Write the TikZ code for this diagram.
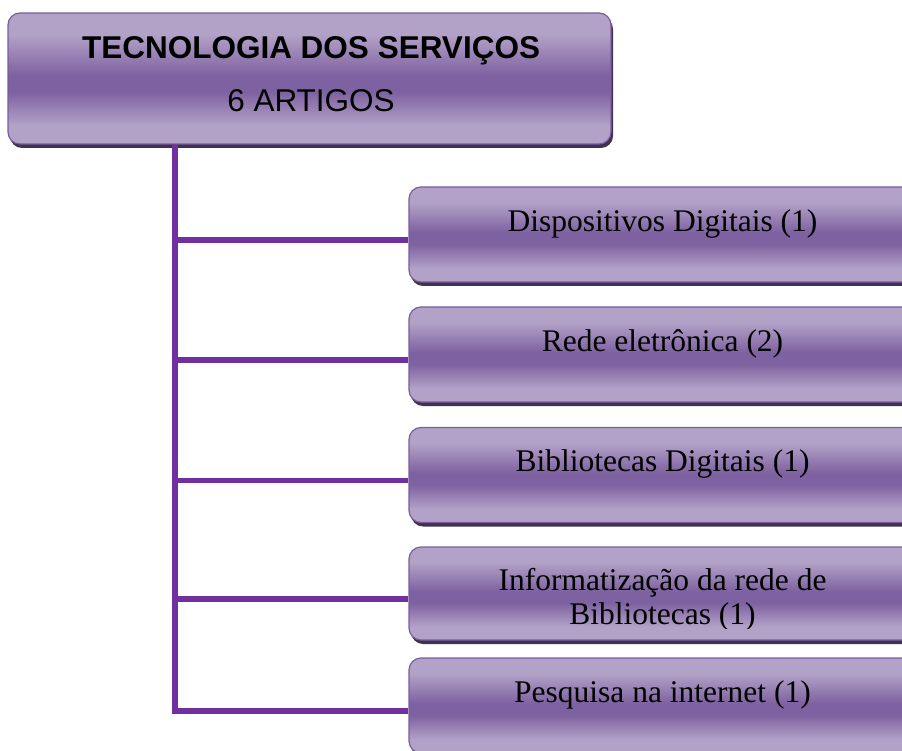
\documentclass[tikz,border=0pt]{standalone}
\usepackage{fontspec}
\setmainfont{Liberation Serif}
\newfontfamily\headfont{Liberation Sans}
\usepackage{tikz}
\usepackage{xcolor}
\usetikzlibrary{shadows}

\definecolor{boxlight}{HTML}{B3A2C8}
\definecolor{boxdark}{HTML}{7E61A0}
\definecolor{boxborder}{HTML}{7A5C9E}
\definecolor{boxshadow}{HTML}{3F3151}
\definecolor{branchpurple}{HTML}{7030A0}

\pgfdeclareverticalshading{bevel}{100bp}{color(0bp)=(boxlight); color(32bp)=(boxlight); color(45bp)=(boxdark); color(51bp)=(boxdark); color(67bp)=(boxlight); color(100bp)=(boxlight)}

\tikzset{
  topbox/.style={draw=boxborder, line width=1.2pt, rounded corners=12pt, shading=bevel,
    minimum width=603pt, minimum height=131pt, inner sep=0pt,
    drop shadow={shadow xshift=2pt, shadow yshift=-4pt, fill=boxshadow, opacity=1}},
  leafbox/.style={topbox, minimum width=507pt, minimum height=95pt},
  leaflabel/.style={anchor=base, inner sep=0pt, font=\fontsize{31.5}{34}\selectfont},
  headlabel/.style={anchor=base, inner sep=0pt, font=\headfont\fontsize{31.5}{34}\selectfont},
  branch/.style={draw=branchpurple, line width=5.5pt}
}

\begin{document}
\begin{tikzpicture}[x=1pt, y=-1pt]
  \useasboundingbox (0,0) rectangle (902,751);
  \clip (0,0) rectangle (902,751);

  % boxes
  \node[topbox] (topic) at (309.5,78.5) {};
  \node[leafbox] (d1) at (662.5,234.5) {};
  \node[leafbox] (d2) at (662.5,354.5) {};
  \node[leafbox] (d3) at (662.5,475) {};
  \node[leafbox, minimum height=93pt] (d4) at (662.5,593.5) {};
  \node[leafbox] (d5) at (662.5,705.5) {};

  % texts
  \node[headlabel, font=\headfont\bfseries\fontsize{31.5}{34}\selectfont] (title) at ([xshift=1.5pt, yshift=-46pt]topic.north) {TECNOLOGIA DOS SERVIÇOS};
  \node[headlabel] (count) at ([xshift=1.5pt, yshift=-99pt]topic.north) {6 ARTIGOS};
  \node[leaflabel] (l1) at ([yshift=-45pt]d1.north) {Dispositivos Digitais (1)};
  \node[leaflabel] (l2) at ([yshift=-45pt]d2.north) {Rede eletrônica (2)};
  \node[leaflabel] (l3) at ([yshift=-45pt]d3.north) {Bibliotecas Digitais (1)};
  \begin{scope}
    \clip (d4.north west) rectangle ([yshift=12pt]d4.south east); % text cut at the box inset
    \node[leaflabel, align=center] (l4) at ([yshift=-78pt]d4.north) {Informatização da rede de\\Bibliotecas (1)};
  \end{scope}
  \node[leaflabel] (l5) at ([yshift=-45pt]d5.north) {Pesquisa na internet (1)};

  % connectors
  \coordinate (trunk) at ([xshift=167.5pt]topic.south west);
  \foreach \n in {1,...,5} \coordinate (j\n) at ([yshift=-5.5pt]d\n.west);
  \draw[branch] (trunk) -- (trunk |- j5) -- (j5); % trunk and last branch
  \draw[branch] (trunk |- j1) -- (j1);
  \draw[branch] (trunk |- j2) -- (j2);
  \draw[branch] (trunk |- j3) -- (j3);
  \draw[branch] (trunk |- j4) -- (j4);
\end{tikzpicture}
\end{document}
